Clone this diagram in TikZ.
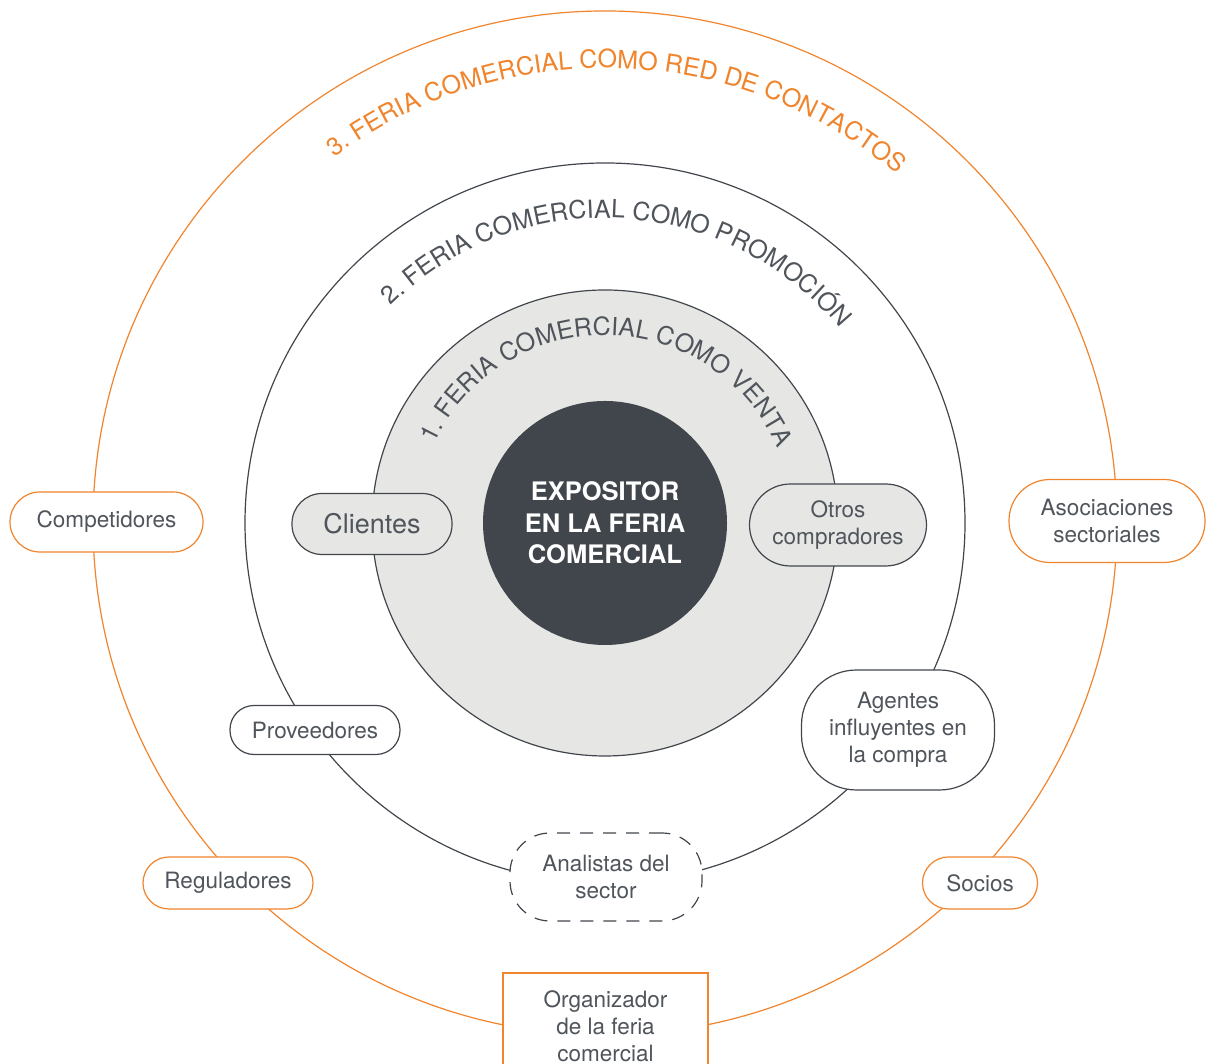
\documentclass[tikz,border=0pt]{standalone}
\usepackage{fontspec}
\setmainfont{TeX Gyre Heros}
\usetikzlibrary{decorations.text,calc}
\definecolor{orng}{HTML}{F0852D}
\definecolor{dk}{HTML}{41464D}
\definecolor{txt}{HTML}{50555C}
\definecolor{lg}{HTML}{E6E7E5}
\begin{document}
\begin{tikzpicture}[x=1pt,y=1pt, line width=1.2pt,
  box/.style={draw=dk, fill=white, text=txt, align=center, inner sep=0pt, font=\fontsize{22.5}{27}\selectfont},
  obox/.style={box, draw=orng},
  arctext/.style={decorate, decoration={text along path, text align=center, text={#1}}}]
\useasboundingbox (0,0) rectangle (1210,1064);
\fill[white] (0,0) rectangle (1210,1064);
\coordinate (C) at (605,541);
\draw[orng] (C) circle[radius=512];
\draw[dk] (C) circle[radius=360];
\draw[dk, fill=lg] (C) circle[radius=233];
\node[circle, fill=dk, minimum size=244, inner sep=0pt, text=white, align=center,
  font=\bfseries\fontsize{25.5}{31.5}\selectfont] (expo) at (C) {EXPOSITOR\\EN LA FERIA\\COMERCIAL};

\path[arctext={|\color{orng}\fontsize{25}{25}\selectfont|3. FERIA COMERCIAL COMO RED DE CONTACTOS}]
  ($(C)+(178.25:455)$) arc[start angle=178.25, end angle=-1.75, radius=455];
\path[arctext={|\color{txt}\fontsize{25}{25}\selectfont|2. FERIA COMERCIAL COMO PROMOCIÓN}]
  ($(C)+(177.1:305)$) arc[start angle=177.1, end angle=-2.9, radius=305];
\path[arctext={|\color{txt}\fontsize{25}{25}\selectfont|1. FERIA COMERCIAL COMO VENTA}]
  ($(C)+(179.25:188)$) arc[start angle=179.25, end angle=-0.75, radius=188];

\node[obox, minimum width=193, minimum height=60, rounded corners=30] (comp) at (106.5,542) {Competidores};
\node[box, fill=lg, minimum width=160, minimum height=61, rounded corners=30, font=\fontsize{27}{32}\selectfont] (cli) at (372,540) {Clientes};
\node[box, fill=lg, minimum width=177, minimum height=82, rounded corners=41] (otros) at (838,539) {Otros\\compradores};
\node[obox, minimum width=196, minimum height=83, rounded corners=41] (asoc) at (1107,543) {Asociaciones\\sectoriales};
\node[box, minimum width=170, minimum height=49, rounded corners=24] (prov) at (315,334) {Proveedores};
\node[box, minimum width=193, minimum height=120, rounded corners=55] (agen) at (898,334) {Agentes\\influyentes en\\la compra};
\node[box, dash pattern=on 13pt off 10pt, minimum width=192, minimum height=88, rounded corners=40] (anal) at (606,187) {Analistas del\\sector};
\node[obox, minimum width=170, minimum height=52, rounded corners=26] (reg) at (228,181) {Reguladores};
\node[obox, minimum width=115, minimum height=52, rounded corners=26] (soc) at (980,181) {Socios};
\node[obox, minimum width=205, minimum height=107] (org) at (605.5,37.5) {Organizador\\de la feria\\comercial};
\end{tikzpicture}
\end{document}
